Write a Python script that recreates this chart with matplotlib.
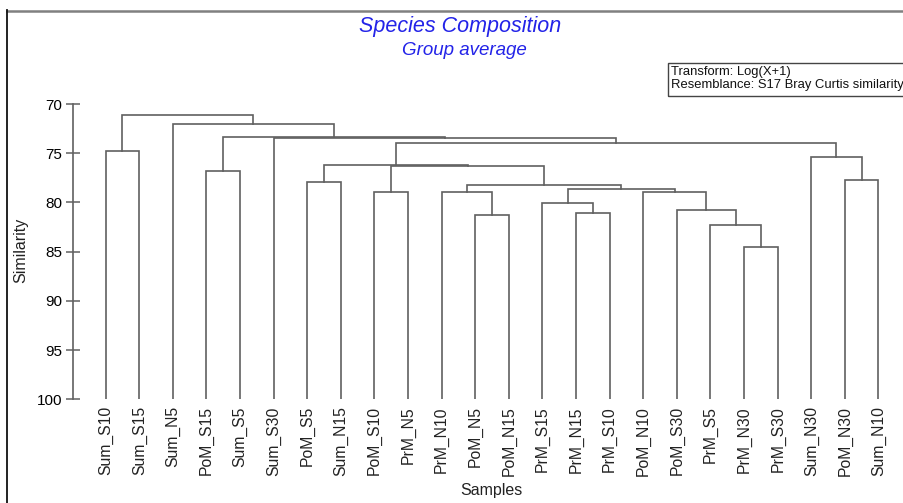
import matplotlib.pyplot as plt
from matplotlib.lines import Line2D
from matplotlib.patches import Rectangle

plt.rcParams['font.family'] = ['Liberation Sans', 'DejaVu Sans']

samples = ['Sum_S10', 'Sum_S15', 'Sum_N5', 'PoM_S15', 'Sum_S5', 'Sum_S30',
           'PoM_S5', 'Sum_N15', 'PoM_S10', 'PrM_N5', 'PrM_N10', 'PoM_N5',
           'PoM_N15', 'PrM_S15', 'PrM_N15', 'PrM_S10', 'PoM_N10', 'PoM_S30',
           'PrM_S5', 'PrM_N30', 'PrM_S30', 'Sum_N30', 'PoM_N30', 'Sum_N10']

# group-average merges: ids below 24 are samples, 24+k is the cluster made in row k
merge_left = [11, 14, 19, 18, 17, 16, 13, 30, 10, 32, 8, 34, 6, 36, 22, 21,
              37, 5, 3, 42, 2, 0, 45]
merge_right = [12, 15, 20, 26, 27, 28, 25, 29, 24, 31, 9, 33, 7, 35, 23, 38,
               39, 40, 4, 41, 43, 1, 44]
merge_sim = [81.31, 81.04, 84.53, 82.26, 80.77, 78.91, 80.02, 78.67, 78.97,
             78.18, 78.91, 76.30, 77.96, 76.23, 77.72, 75.35, 74.00, 73.49,
             76.84, 73.32, 72.07, 74.78, 71.12]

W, H = 904, 503
fig = plt.figure(figsize=(W / 100, H / 100), dpi=100)


def fx(px):
    return px / W


def fy(py):
    return 1 - py / H


ax = fig.add_axes([fx(73), fy(399.3), fx(895.3) - fx(73), fy(104) - fy(399.3)])

line_col = '#606060'
pos = {i: float(i) for i in range(len(samples))}
level = {i: 100.0 for i in range(len(samples))}
for k, (a, b, s) in enumerate(zip(merge_left, merge_right, merge_sim)):
    ax.plot([pos[a], pos[a], pos[b], pos[b]], [level[a], s, s, level[b]],
            color=line_col, lw=1.2, solid_joinstyle='miter')
    node = len(samples) + k
    pos[node] = (pos[a] + pos[b]) / 2
    level[node] = s

ax.set_xlim(-0.97, 23.5)
ax.set_ylim(100, 70)
ax.set_yticks([70, 75, 80, 85, 90, 95, 100])
ax.set_xticks(range(len(samples)))
ax.set_xticklabels(samples, rotation=90, fontsize=11.3, color='#222222', va='top')
ax.tick_params(axis='x', length=0, pad=5)
ax.tick_params(axis='y', direction='inout', length=10, width=1.1,
               color=line_col, labelsize=11, pad=2.5)
for side in ['top', 'right', 'bottom']:
    ax.spines[side].set_visible(False)
ax.spines['left'].set_color(line_col)
ax.spines['left'].set_linewidth(1.2)

fig.text(fx(21), fy(250), 'Similarity', rotation=90, fontsize=11.5,
         ha='center', va='center', color='#222222')
fig.text(fx(491), fy(490), 'Samples', fontsize=11.5, ha='center', va='center',
         color='#222222')

# titles
fig.text(fx(460), fy(32), 'Species Composition', fontsize=15.5, style='italic',
         color='#2323e8', ha='center', va='baseline')
fig.text(fx(464.5), fy(55), 'Group average', fontsize=13.5, style='italic',
         color='#2323e8', ha='center', va='baseline')

# info box
fig.add_artist(Rectangle((fx(668), fy(96)), fx(910) - fx(668), fy(63) - fy(96),
                         transform=fig.transFigure, fill=False,
                         edgecolor='#444444', lw=1.0))
fig.text(fx(671), fy(75), 'Transform: Log(X+1)', fontsize=9.4,
         ha='left', va='baseline', color='#111111')
fig.text(fx(671), fy(88), 'Resemblance: S17 Bray Curtis similarity',
         fontsize=9.4, ha='left', va='baseline', color='#111111')

# outer frame
fig.add_artist(Line2D([fx(7), fx(904)], [fy(10.7), fy(10.7)],
                      transform=fig.transFigure, color='#808080', lw=1.8))
fig.add_artist(Line2D([fx(7), fx(7)], [fy(10), fy(503)],
                      transform=fig.transFigure, color='#111111', lw=1.3))

fig.savefig('out.png', dpi=100)
